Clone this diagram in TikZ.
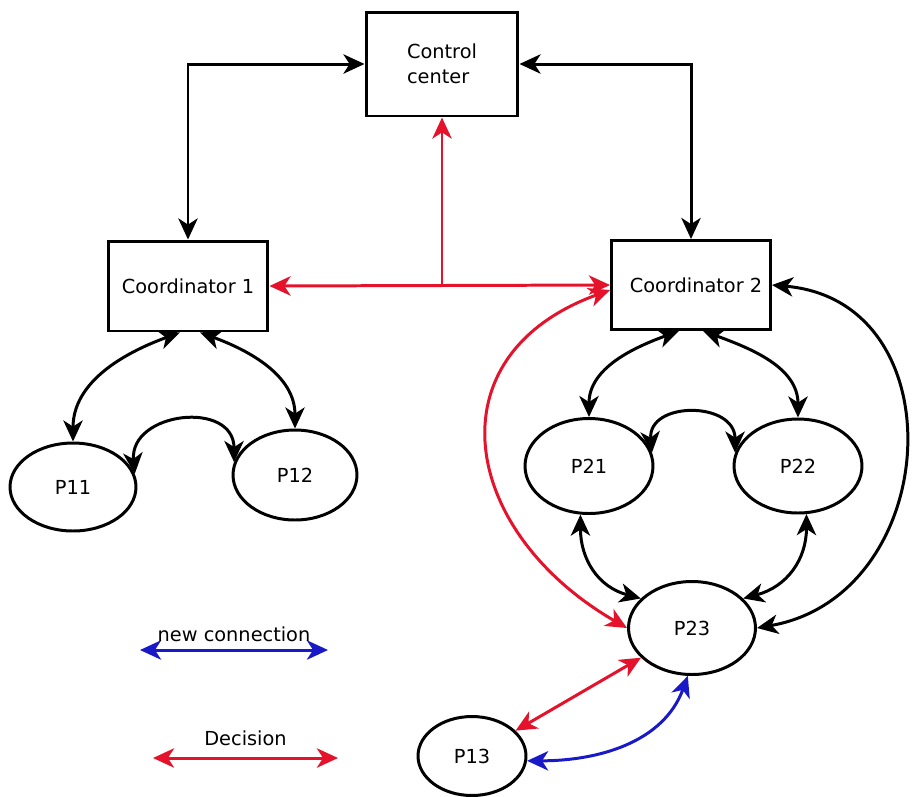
\documentclass[tikz,border=0pt]{standalone}
\usepackage{fontspec}
\setmainfont{DejaVu Sans}
\usetikzlibrary{arrows.meta,shapes.geometric}
\definecolor{myred}{RGB}{228,18,42}
\definecolor{myblue}{RGB}{25,25,200}
\begin{document}
\begin{tikzpicture}[x=0.02cm,y=0.02cm,
  >={Stealth[length=12pt,width=11pt,inset=3.5pt]},
  conn/.style={<->, line width=1.7pt},
  box/.style={draw, line width=1.7pt, rectangle, inner sep=0pt, font=\fontsize{11}{14}\selectfont},
  proc/.style={draw, ellipse, line width=1.7pt, inner sep=0pt, font=\fontsize{11}{13}\selectfont},
  lbl/.style={font=\fontsize{11}{13}\selectfont, text=black, inner sep=1pt}
]
\useasboundingbox (0,0) rectangle (913,-796);

\node[box, minimum width=3.04cm, minimum height=2.08cm, align=left] (cc) at (442,-64) {Control\\center};
\node[box, minimum width=3.2cm, minimum height=1.8cm] (c1) at (188,-286) {Coordinator 1};
\node[box, minimum width=3.18cm, minimum height=1.78cm] (c2) at (691,-285) {\hspace{0.2cm}Coordinator 2};
\node[proc, minimum width=2.52cm, minimum height=1.76cm] (p11) at (73,-487) {P11};
\node[proc, minimum width=2.48cm, minimum height=1.8cm] (p12) at (295,-475) {P12};
\node[proc, minimum width=2.56cm, minimum height=1.9cm] (p21) at (589,-466) {P21};
\node[proc, minimum width=2.56cm, minimum height=1.88cm] (p22) at (798,-466) {P22};
\node[proc, minimum width=2.54cm, minimum height=1.86cm] (p23) at (692,-628) {P23};
\node[proc, minimum width=2.16cm, minimum height=1.58cm] (p13) at (472,-756) {P13};

% control center links
\draw[conn] (cc.west) -| (c1.north);
\draw[conn] (cc.east) -| (c2.north);
\draw[conn, myred] (c1.east) -- (c2.west);
\coordinate (j) at (cc.south |- c1.east);
\draw[->, line width=1.7pt, myred] (j) -- (cc.south);

% coordinator 1 group
\draw[conn] ([xshift=-0.16cm]c1.south) to[out=200,in=90] (p11.north);
\draw[conn] ([xshift=0.24cm]c1.south) to[out=-20,in=90] (p12.north);
\draw[conn] (p11.12) to[out=95,in=90,looseness=1.6] (p12.168);

% coordinator 2 group
\draw[conn] ([xshift=-0.24cm]c2.south) to[out=200,in=90] (p21.north);
\draw[conn] ([xshift=0.24cm]c2.south) to[out=-20,in=90] (p22.north);
\draw[conn] (p21.12) to[out=95,in=90,looseness=1.6] (p22.168);
\draw[conn] (p21.-100) to[out=-90,in=165,looseness=1.1] (p23.150);
\draw[conn] (p22.-80) to[out=-90,in=15,looseness=1.1] (p23.30);
\draw[conn] (c2.east) to[out=-5,in=10,looseness=1.4] (p23.east);
\draw[conn, myred] ([yshift=-0.1cm]c2.west) to[out=200,in=150,looseness=1.45] (p23.west);
\draw[conn, myred] (p23) -- (p13);
\draw[conn, myblue] (p23.-95) to[out=-110,in=0] (p13.-5);

% legend
\coordinate (b1) at (140,-650);
\coordinate (b2) at (328,-650);
\draw[conn, myblue] (b1) -- (b2) node[midway, above=3pt, lbl] (lnew) {new connection};
\coordinate (r1) at (153,-758);
\coordinate (r2) at (338,-758);
\draw[conn, myred] (r1) -- (r2) node[midway, above=5pt, lbl] (ldec) {Decision};
\end{tikzpicture}
\end{document}
